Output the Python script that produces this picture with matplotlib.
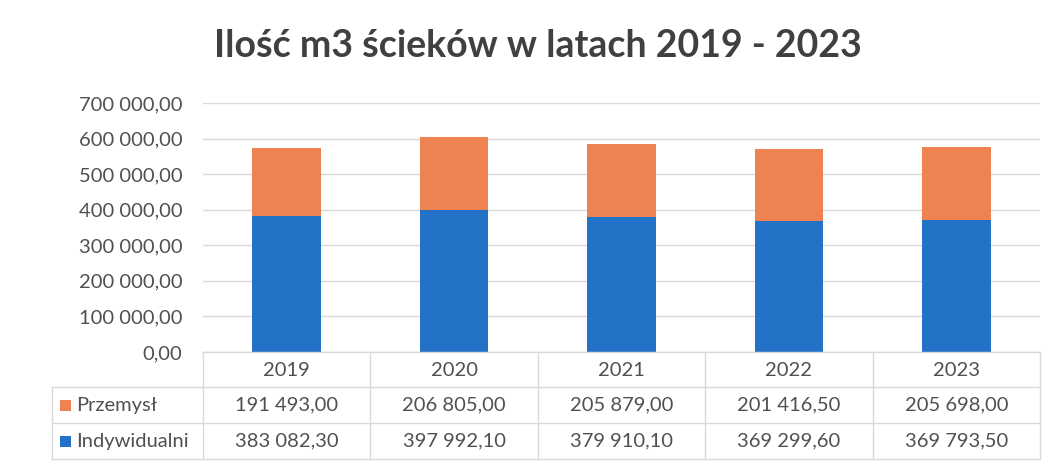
import matplotlib
matplotlib.use("Agg")
import matplotlib.pyplot as plt
from matplotlib.transforms import blended_transform_factory
from matplotlib.patches import Rectangle

plt.rcParams["font.family"] = ["Lato", "DejaVu Sans"]

years = ["2019", "2020", "2021", "2022", "2023"]
przemysl = [191493.00, 206805.00, 205879.00, 201416.50, 205698.00]
indywidualni = [383082.30, 397992.10, 379910.10, 369299.60, 369793.50]
series_names = ["Przemysł", "Indywidualni"]
yticks = [0, 100000, 200000, 300000, 400000, 500000, 600000, 700000]

C_ORANGE = "#EE8250"
C_BLUE = "#2472C8"
C_TEXT = "#505050"
C_GRID = "#D9D9D9"
C_BORDER = "#D9D9D9"

W, H = 1058, 466


def fmt(v):
    s = f"{v:,.2f}"
    return s.replace(",", " ").replace(".", ",")


def fy(px):
    """Pixel row from top -> figure fraction."""
    return 1 - px / H


def fx(px):
    return px / W


fig = plt.figure(figsize=(W / 100, H / 100), dpi=100)
ax = fig.add_axes([fx(203), fy(352), fx(1040) - fx(203), fy(103) - fy(352)])

x = list(range(len(years)))
ax.bar(x, indywidualni, width=0.41, color=C_BLUE, zorder=2)
ax.bar(x, przemysl, width=0.41, bottom=indywidualni, color=C_ORANGE, zorder=2)

ax.set_xlim(-0.5, len(years) - 0.5)
ax.set_ylim(0, 700000)
ax.set_yticks(yticks)
ax.set_yticklabels([fmt(v) for v in yticks])
ax.tick_params(axis="y", length=0, pad=15, labelsize=14.5, labelcolor=C_TEXT)
ax.tick_params(axis="x", bottom=False, labelbottom=False)
ax.yaxis.grid(True, color=C_GRID, linewidth=1, zorder=0)
for sp in ax.spines.values():
    sp.set_visible(False)

fig.text(0.508, fy(46), "Ilość m3 ścieków w latach 2019 - 2023", ha="center", va="center",
         fontsize=27, fontweight="bold", color="#404040")

# data table under the axis
tr = blended_transform_factory(ax.transData, fig.transFigure)
rows_y = [352, 387, 423, 459]
left_px = 52
lw = 1.0

# horizontal lines
fig.add_artist(plt.Line2D([-0.5, len(years) - 0.5], [fy(rows_y[0])] * 2, transform=tr,
                          color=C_BORDER, lw=lw))
for ry in rows_y[1:]:
    fig.add_artist(plt.Line2D([fx(left_px), fx(1040)], [fy(ry)] * 2, transform=fig.transFigure,
                              color=C_BORDER, lw=lw))
# vertical lines
for i in range(len(years) + 1):
    fig.add_artist(plt.Line2D([i - 0.5, i - 0.5], [fy(rows_y[0]), fy(rows_y[-1])], transform=tr,
                              color=C_BORDER, lw=lw))
fig.add_artist(plt.Line2D([fx(left_px)] * 2, [fy(rows_y[1]), fy(rows_y[-1])],
                          transform=fig.transFigure, color=C_BORDER, lw=lw))

# header and values
for i, yr in enumerate(years):
    fig.text(i, fy((rows_y[0] + rows_y[1]) / 2 + 1), yr, transform=tr, ha="center", va="center",
             fontsize=14.5, color=C_TEXT)
    fig.text(i, fy((rows_y[1] + rows_y[2]) / 2), fmt(przemysl[i]), transform=tr, ha="center",
             va="center", fontsize=14.5, color=C_TEXT)
    fig.text(i, fy((rows_y[2] + rows_y[3]) / 2), fmt(indywidualni[i]), transform=tr, ha="center",
             va="center", fontsize=14.5, color=C_TEXT)

# legend keys in the first column
for k, (name, col) in enumerate(zip(series_names, [C_ORANGE, C_BLUE])):
    cy = (rows_y[k + 1] + rows_y[k + 2]) / 2
    fig.add_artist(Rectangle((fx(60), fy(cy + 6)), fx(11), fy(0) - fy(11),
                             transform=fig.transFigure, color=col, lw=0))
    fig.text(fx(76), fy(cy), name, ha="left", va="center", fontsize=14.5, color=C_TEXT)

fig.savefig("out.png", dpi=100)
